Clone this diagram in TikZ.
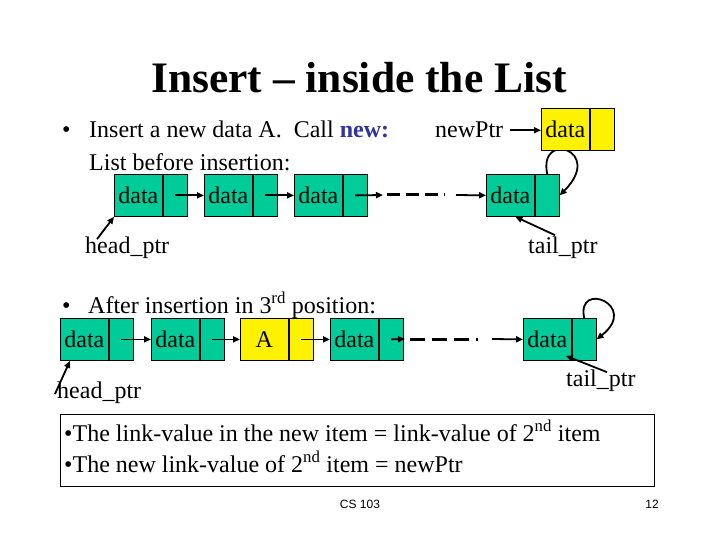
\documentclass[tikz,border=0pt]{standalone}
\usepackage{fontspec}
\setmainfont{Liberation Serif}
\newfontfamily\footfont{Liberation Sans}
\usetikzlibrary{arrows.meta,calc}
\definecolor{boxgreen}{RGB}{0,204,153}
\definecolor{newblue}{RGB}{51,51,153}
\begin{document}
\begin{tikzpicture}[x=1pt,y=-1pt,
  txt/.style={font=\fontsize{24}{28}\selectfont, inner sep=0pt, anchor=base west},
  dpart/.style={draw=black, line width=0.8pt, fill=boxgreen, minimum width=48pt, minimum height=42pt, inner sep=0pt, anchor=north west, font=\fontsize{24}{28}\selectfont},
  ppart/.style={draw=black, line width=0.8pt, fill=boxgreen, minimum width=24pt, minimum height=42pt, inner sep=0pt, anchor=west},
  link/.style={line width=1.8pt, -{Triangle[length=7pt,width=6pt]}},
  dots/.style={line width=3pt},
]
\useasboundingbox (0,0) rectangle (720,540);

% title
\node[font=\fontsize{43.5}{50}\selectfont\bfseries, anchor=base, inner sep=0pt] (title) at (359,93) {Insert -- inside the List};

% first bullet
\node[txt] (bul1) at (62,138) {\textbullet};
\node[txt] (line1) at (89,138) {Insert a new data A.\ \ Call \textcolor{newblue}{\textbf{new:}}};
\node[txt] (line2) at (89,171) {List before insertion:};

% top list
\node[dpart] (a1) at (114,174) {data};
\node[ppart] (a1p) at (a1.east) {};
\node[dpart] (a2) at (204,174) {data};
\node[ppart] (a2p) at (a2.east) {};
\node[dpart] (a3) at (294,174) {data};
\node[ppart] (a3p) at (a3.east) {};
\node[dpart] (a4) at (486,174) {data};
\node[ppart] (a4p) at (a4.east) {};

\draw[link] (a1p.center) -- (a2.west);
\draw[link] (a2p.center) -- (a3.west);
\coordinate (d1) at (383,195);
\coordinate (d2) at (387,195);
\coordinate (d3) at (445,195);
\coordinate (d4) at (456,195);
\draw[link] (a3p.center) -- (d1);
\draw[dots, dash pattern=on 13pt off 6pt] (d2) -- (d3);
\draw[link] (d4) -- (a4.west);
\draw[link] (a4p.north) .. controls (538,130) and (605,150) .. (a4p.east);

% new node
\node[txt] (np) at (435,138) {newPtr};
\node[dpart, fill=yellow] (n1) at (541,108) {data};
\node[ppart, fill=yellow] (n1p) at (n1.east) {};
\draw[link] ($(np.east)+(7,0)$) -- (np.east -| n1.west);

% pointers top
\node[txt] (h1) at (85,253) {head\_ptr};
\draw[link] ($(h1.north west)+(12,3)$) -- (a1.south west);
\node[txt] (tl1) at (528,254) {tail\_ptr};
\draw[link] ($(tl1.north west)+(27,-2)$) -- ($(a4.south)+(5,0)$);

% second bullet
\node[txt] (bul2) at (62,313) {\textbullet};
\node[txt] (line3) at (88,313) {After insertion in 3\textsuperscript{rd} position:};

% bottom list
\node[dpart] (b1) at (60,318) {data};
\node[ppart] (b1p) at (b1.east) {};
\node[dpart] (b2) at (151,318) {data};
\node[ppart] (b2p) at (b2.east) {};
\node[dpart, fill=yellow] (b3) at (240,318) {A};
\node[ppart, fill=yellow] (b3p) at (b3.east) {};
\node[dpart] (b4) at (330,318) {data};
\node[ppart] (b4p) at (b4.east) {};
\node[dpart] (b5) at (523,318) {data};
\node[ppart] (b5p) at (b5.east) {};

\draw[link] (b1p.center) -- (b2.west);
\draw[link] (b2p.center) -- (b3.west);
\draw[link] (b3p.center) -- (b4.west);
\coordinate (e1) at (405,339);
\coordinate (e2) at (410,339);
\coordinate (e3) at (478,339);
\coordinate (e4) at (492,339);
\draw[link] (b4p.center) -- (e1);
\draw[dots, dash pattern=on 15pt off 7pt] (e2) -- (e3);
\draw[link] (e4) -- (b5.west);
\draw[link] (b5p.north) .. controls (576,280) and (640,305) .. (b5p.east);

% pointers bottom
\node[txt] (h2) at (57,398) {head\_ptr};
\draw[link] ($(h2.base west)+(-2,-4)$) -- ($(b1.south west)+(10,0)$);
\node[txt] (tl2) at (566,386) {tail\_ptr};
\draw[link] ($(tl2.north west)+(41,3)$) -- ($(b5.south east)+(-6,-5)$);

% note box
\node[draw=black, line width=0.8pt, minimum width=594pt, minimum height=72pt, inner sep=0pt, anchor=north west] (note) at (60,414) {};
\node[txt] (note1) at (64,441) {\textbullet The link-value in the new item = link-value of 2\textsuperscript{nd} item};
\node[txt] (note2) at (64,472) {\textbullet The new link-value of 2\textsuperscript{nd} item = newPtr};

% footer
\node[font=\footfont\fontsize{12}{14}\selectfont, anchor=base, inner sep=0pt] (cs) at (360,508) {CS 103};
\node[font=\footfont\fontsize{12}{14}\selectfont, anchor=base east, inner sep=0pt] (pg) at (659,508) {12};
\end{tikzpicture}
\end{document}
